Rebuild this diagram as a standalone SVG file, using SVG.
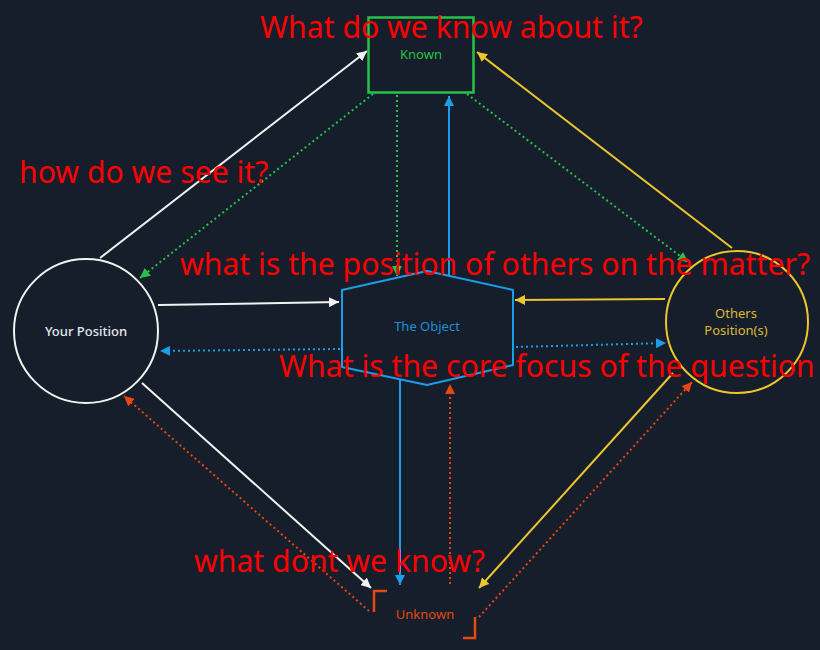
<svg xmlns="http://www.w3.org/2000/svg" width="820" height="650" viewBox="0 0 820 650">
<defs>
<style>
.lbl{font-family:"Noto Sans","Open Sans","DejaVu Sans",sans-serif;font-size:13px;text-anchor:middle}
.ann{font-family:"Noto Sans","Open Sans","DejaVu Sans",sans-serif;font-size:30.2px;fill:#ff0000}
.c{fill:none;stroke-width:2}
.dot{stroke-dasharray:2 3}
.w{stroke:#f2f2f2}.g{stroke:#27c24a}.b{stroke:#1c9ee6}.y{stroke:#ecc62c}.o{stroke:#e8470f}
</style>
<marker id="aw" viewBox="0 0 10 10" refX="10" refY="5" markerWidth="5" markerHeight="5" orient="auto"><path d="M0,0L10,5L0,10z" fill="#f2f2f2"/></marker>
<marker id="ag" viewBox="0 0 10 10" refX="10" refY="5" markerWidth="5" markerHeight="5" orient="auto"><path d="M0,0L10,5L0,10z" fill="#27c24a"/></marker>
<marker id="ab" viewBox="0 0 10 10" refX="10" refY="5" markerWidth="5" markerHeight="5" orient="auto"><path d="M0,0L10,5L0,10z" fill="#1c9ee6"/></marker>
<marker id="ay" viewBox="0 0 10 10" refX="10" refY="5" markerWidth="5" markerHeight="5" orient="auto"><path d="M0,0L10,5L0,10z" fill="#ecc62c"/></marker>
<marker id="ao" viewBox="0 0 10 10" refX="10" refY="5" markerWidth="5" markerHeight="5" orient="auto"><path d="M0,0L10,5L0,10z" fill="#e8470f"/></marker>
</defs>
<rect width="820" height="650" fill="#161e2b"/>

<g id="connectors">
<line class="c w" x1="100" y1="258" x2="367" y2="51" marker-end="url(#aw)"/>
<line class="c g dot" x1="373" y1="94" x2="140" y2="278" marker-end="url(#ag)"/>
<line class="c g dot" x1="397" y1="95" x2="397" y2="276" marker-end="url(#ag)"/>
<line class="c b" x1="449" y1="277" x2="449" y2="96" marker-end="url(#ab)"/>
<line class="c g dot" x1="467" y1="94" x2="688" y2="262" marker-end="url(#ag)"/>
<line class="c y" x1="732" y1="248" x2="477" y2="52" marker-end="url(#ay)"/>
<line class="c w" x1="158" y1="305" x2="339" y2="302" marker-end="url(#aw)"/>
<line class="c b dot" x1="340" y1="349" x2="160" y2="351" marker-end="url(#ab)"/>
<line class="c y" x1="665" y1="299" x2="515" y2="300" marker-end="url(#ay)"/>
<line class="c b dot" x1="516" y1="347" x2="666" y2="343" marker-end="url(#ab)"/>
<line class="c b" x1="400" y1="379" x2="400" y2="585" marker-end="url(#ab)"/>
<line class="c o dot" x1="450" y1="584" x2="450" y2="384" marker-end="url(#ao)"/>
<line class="c w" x1="142" y1="383" x2="371" y2="588" marker-end="url(#aw)"/>
<line class="c o dot" x1="369" y1="611" x2="124" y2="396" marker-end="url(#ao)"/>
<line class="c y" x1="673" y1="373" x2="479" y2="588" marker-end="url(#ay)"/>
<line class="c o dot" x1="479" y1="617" x2="692" y2="382" marker-end="url(#ao)"/>
</g>

<g id="known">
<rect x="368.5" y="17.5" width="105" height="75" fill="none" stroke="#27c24a" stroke-width="2.5"/>
<text class="lbl" x="421" y="59" fill="#27c24a">Known</text>
</g>

<g id="your-position">
<circle cx="86" cy="331" r="72" fill="#161e2b" stroke="#f2f2f2" stroke-width="2"/>
<text class="lbl" x="86" y="336" fill="#e4e9f0" font-weight="500">Your Position</text>
</g>

<g id="others-position">
<circle cx="737" cy="322" r="71" fill="none" stroke="#ecc62c" stroke-width="2"/>
<text class="lbl" x="736" y="318" fill="#d9bb36">Others</text>
<text class="lbl" x="736" y="335" fill="#d9bb36">Position(s)</text>
</g>

<g id="the-object">
<polygon points="427,271 513,290 513,365 427,385 342,367 342,290" fill="#161e2b" stroke="#1c9ee6" stroke-width="2" stroke-linejoin="round"/>
<text class="lbl" x="427" y="331" fill="#1c8fd6">The Object</text>
</g>

<g id="unknown">
<path d="M374,612V591H387M463,638H475V617" fill="none" stroke="#e8470f" stroke-width="2.5"/>
<text class="lbl" x="425" y="619" fill="#e0490f">Unknown</text>
</g>

<g id="annotations">
<text class="ann" x="260" y="38">What do we know about it?</text>
<text class="ann" x="19" y="183">how do we see it?</text>
<text class="ann" x="180" y="275">what is the position of others on the matter?</text>
<text class="ann" x="279" y="377">What is the core focus of the question</text>
<text class="ann" x="194" y="572">what dont we know?</text>
</g>
</svg>
